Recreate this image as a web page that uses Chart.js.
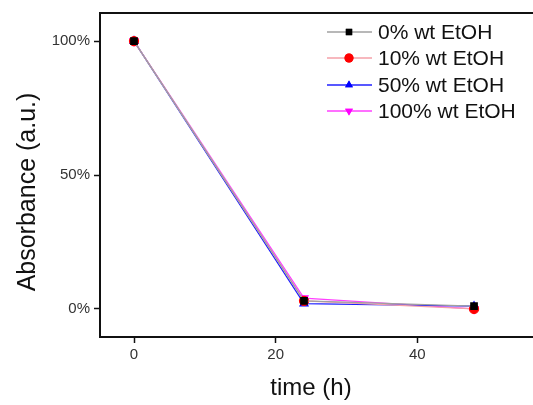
<!DOCTYPE html>
<html>
<head>
<meta charset="utf-8">
<script src="https://cdn.jsdelivr.net/npm/chart.js@4/dist/chart.umd.min.js"></script>
<style>
html,body{margin:0;padding:0;background:#fff;overflow:hidden;}
#wrap{position:relative;width:533px;height:405px;overflow:hidden;}
canvas{display:block;}
</style>
</head>
<body>
<div id="wrap"><canvas id="c" width="545" height="405"></canvas></div>
<script>
const times = [0, 24, 48];
const seriesNames = ["0% wt EtOH", "10% wt EtOH", "50% wt EtOH", "100% wt EtOH"];
const eth0 = [100, 3, 1];
const eth10 = [100, 3, 0];
const eth50 = [100, 2, 1];
const eth100 = [100, 4, 0];
const xTicks = [0, 20, 40];
const yTicks = [0, 50, 100];
const xTitle = "time (h)";
const yTitle = "Absorbance (a.u.)";

const markerColors = ["#000000", "#ff0000", "#0000ff", "#ff00ff"];
const lineColors = ["#a0a0a0", "#f4a0a8", "#2020ff", "#ff40ff"];
const pointStyles = ["rect", "circle", "triangle", "triangle"];
const rotations = [0, 0, 0, 180];
const allValues = [eth0, eth10, eth50, eth100];

const datasets = allValues.map((vals, i) => ({
  label: seriesNames[i],
  data: vals.map((v, j) => ({x: times[j], y: v})),
  borderColor: lineColors[i],
  backgroundColor: markerColors[i],
  pointBackgroundColor: markerColors[i],
  pointBorderColor: markerColors[i],
  pointStyle: pointStyles[i],
  pointRotation: rotations[i],
  pointRadius: 4.5,
  borderWidth: 1.3,
  tension: 0
}));

const FONT = "'Liberation Sans', Arial, sans-serif";

const boxPlugin = {
  id: 'box',
  afterDraw(chart) {
    const {ctx, chartArea} = chart;
    ctx.save();
    ctx.strokeStyle = '#111';
    ctx.lineWidth = 2;
    ctx.beginPath();
    ctx.moveTo(chartArea.left - 1, chartArea.top);
    ctx.lineTo(chart.width, chartArea.top);
    ctx.stroke();
    // axis titles
    ctx.fillStyle = '#111';
    ctx.textAlign = 'center';
    ctx.textBaseline = 'middle';
    ctx.font = "24px " + FONT;
    ctx.fillText(xTitle, 311, 388);
    ctx.save();
    ctx.translate(28, 192);
    ctx.rotate(-Math.PI / 2);
    ctx.font = "25px " + FONT;
    ctx.fillText(yTitle, 0, 0);
    ctx.restore();
    // legend
    const x0 = 327, x1 = 372, xm = 349, tx = 378;
    const rows = [32, 58, 85, 111];
    ctx.font = "21px " + FONT;
    ctx.textBaseline = 'middle';
    ctx.textAlign = 'left';
    datasets.forEach((d, i) => {
      const y = rows[i];
      ctx.strokeStyle = lineColors[i];
      ctx.lineWidth = 1.3;
      ctx.beginPath(); ctx.moveTo(x0, y); ctx.lineTo(x1, y); ctx.stroke();
      ctx.fillStyle = markerColors[i];
      Chart.helpers.drawPoint(ctx, {pointStyle: pointStyles[i], rotation: rotations[i], radius: 4.5, borderWidth: 0}, xm, y);
      ctx.fill();
      ctx.fillStyle = '#111';
      ctx.fillText(d.label, tx, y + 1);
    });
    ctx.restore();
  }
};

new Chart(document.getElementById('c'), {
  type: 'line',
  data: {datasets},
  options: {
    responsive: false,
    animation: false,
    layout: {padding: {top: 13, right: 0, left: 0, bottom: 0}},
    plugins: {legend: {display: false}, tooltip: {enabled: false}},
    scales: {
      x: {
        type: 'linear',
        min: -4.8, max: 57.2,
        afterBuildTicks: s => { s.ticks = xTicks.map(v => ({value: v})); },
        afterFit: s => { s.height = 68; },
        grid: {drawOnChartArea: false, color: '#111', tickLength: 6, tickWidth: 1.5},
        border: {color: '#111', width: 2},
        ticks: {color: '#333', font: {family: FONT, size: 15}, padding: 3},
        title: {display: false}
      },
      y: {
        min: -10.5, max: 110.5,
        afterBuildTicks: s => { s.ticks = yTicks.map(v => ({value: v})); },
        afterFit: s => { s.width = 100; },
        grid: {drawOnChartArea: false, color: '#111', tickLength: 6, tickWidth: 1.5},
        border: {color: '#111', width: 2},
        ticks: {color: '#333', font: {family: FONT, size: 15}, padding: 4, callback: v => v + '%'},
        title: {display: false}
      }
    }
  },
  plugins: [boxPlugin]
});
</script>
</body>
</html>
